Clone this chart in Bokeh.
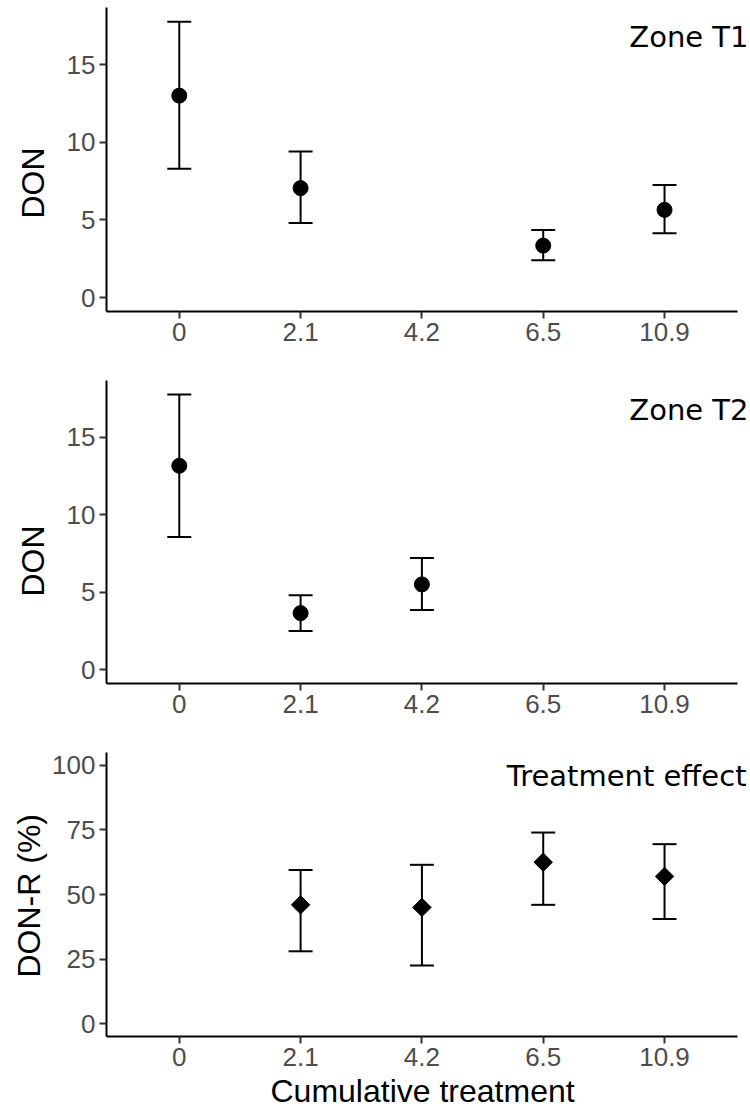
from bokeh.plotting import figure
from bokeh.models import (ColumnDataSource, Range1d, Whisker, TeeHead, Label,
                          FixedTicker, Title)
from bokeh.layouts import column
from bokeh.embed import file_html
from bokeh.resources import INLINE

# Cumulative treatment levels (x categories)
doses = ["0", "2.1", "4.2", "6.5", "10.9"]

# Zone T1: DON mean with lower / upper bounds
t1_dose = ["0", "2.1", "6.5", "10.9"]
t1_mean = [13.0, 7.05, 3.35, 5.65]
t1_lower = [8.3, 4.8, 2.4, 4.15]
t1_upper = [17.75, 9.4, 4.35, 7.25]

# Zone T2
t2_dose = ["0", "2.1", "4.2"]
t2_mean = [13.15, 3.65, 5.5]
t2_lower = [8.55, 2.5, 3.85]
t2_upper = [17.75, 4.8, 7.2]

# Treatment effect: DON reduction (%)
eff_dose = ["2.1", "4.2", "6.5", "10.9"]
eff_mean = [46.0, 45.0, 62.5, 57.0]
eff_lower = [28.0, 22.5, 46.0, 40.5]
eff_upper = [59.5, 61.5, 74.0, 69.5]

don_ticks = [0, 5, 10, 15]
eff_ticks = [0, 25, 50, 75, 100]

TICK_FONT = "Liberation Sans"
TAG_FONT = "DejaVu Sans"

# categories sit at 1..5; the frame runs a little past the last one so the
# panel tag can hang over the right end of the axis line
X_START, X_END = 0.4, 0.4 + 645 / 121.5
AXIS_BOUNDS = (0.4, 5.6)


def make_panel(xs, mean, lower, upper, y_start, y_end, ticks, ylabel, tag,
               height, top, bottom, ylab_standoff, ylab_offset, marker, msize,
               angle, tag_y, tag_x, xlabel=None):
    p = figure(width=750, height=height,
               x_range=Range1d(X_START, X_END),
               y_range=Range1d(y_start, y_end),
               output_backend="svg", toolbar_location=None,
               min_border_left=105, min_border_right=0,
               min_border_top=top, min_border_bottom=bottom)
    p.outline_line_color = None
    p.xgrid.visible = False
    p.ygrid.visible = False
    p.background_fill_color = "white"
    p.border_fill_color = "white"

    pos = [doses.index(d) + 1 for d in xs]
    src = ColumnDataSource(dict(x=pos, m=mean, lo=lower, up=upper))
    head = dict(size=24, line_width=2, line_color="black")
    p.add_layout(Whisker(source=src, base="x", lower="lo", upper="up",
                         dimension="height", line_width=2, line_color="black",
                         lower_head=TeeHead(**head), upper_head=TeeHead(**head)))
    p.scatter("x", "m", source=src, marker=marker, size=msize, angle=angle,
              fill_color="black", line_color="black")

    for ax in (p.xaxis[0], p.yaxis[0]):
        ax.axis_line_color = "black"
        ax.axis_line_width = 2
        ax.major_tick_line_color = "#333333"
        ax.major_tick_line_width = 2
        ax.major_tick_out = 7
        ax.major_tick_in = 0
        ax.minor_tick_line_color = None
        ax.major_label_text_font = TICK_FONT
        ax.major_label_text_font_size = "26px"
        ax.major_label_text_color = "#4D4D4D"
        ax.major_label_standoff = 4

    p.xaxis[0].bounds = AXIS_BOUNDS
    p.xaxis[0].ticker = FixedTicker(ticks=list(range(1, len(doses) + 1)))
    p.xaxis[0].major_label_overrides = {i + 1: d for i, d in enumerate(doses)}
    p.yaxis[0].ticker = FixedTicker(ticks=ticks)

    # axis titles are titles on the side panels so they can be slid along
    p.add_layout(Title(text=ylabel, align="left", offset=ylab_offset,
                       standoff=ylab_standoff, text_font=TICK_FONT,
                       text_font_size="32px", text_font_style="normal",
                       text_color="black"), "left")
    if xlabel:
        p.add_layout(Title(text=xlabel, align="left", offset=164, standoff=5,
                           text_font=TICK_FONT, text_font_size="32px",
                           text_font_style="normal", text_color="black"),
                     "below")

    p.add_layout(Label(x=tag_x, y=tag_y, x_units="screen", y_units="screen",
                       text=tag, text_align="right", text_baseline="alphabetic",
                       text_font=TAG_FONT, text_font_size="29px",
                       text_color="black"))
    return p


p1 = make_panel(t1_dose, t1_mean, t1_lower, t1_upper, -0.89, 18.67, don_ticks,
                "DON", "Zone T1", 370, 7, 59, 25, 93, "circle", 15, 0.0,
                275, 642)
p2 = make_panel(t2_dose, t2_mean, t2_lower, t2_upper, -0.89, 18.65, don_ticks,
                "DON", "Zone T2", 370, 10, 57, 25, 87, "circle", 15, 0.0,
                274, 642)
p3 = make_panel(eff_dose, eff_mean, eff_lower, eff_upper, -5, 105, eff_ticks,
                "DON-R (%)", "Treatment effect", 371, 12, 74, 5, 59, "square",
                13, 0.7854, 261, 640, xlabel="Cumulative treatment")

layout = column(p1, p2, p3)
open("out.html", "w").write(file_html(layout, INLINE))
